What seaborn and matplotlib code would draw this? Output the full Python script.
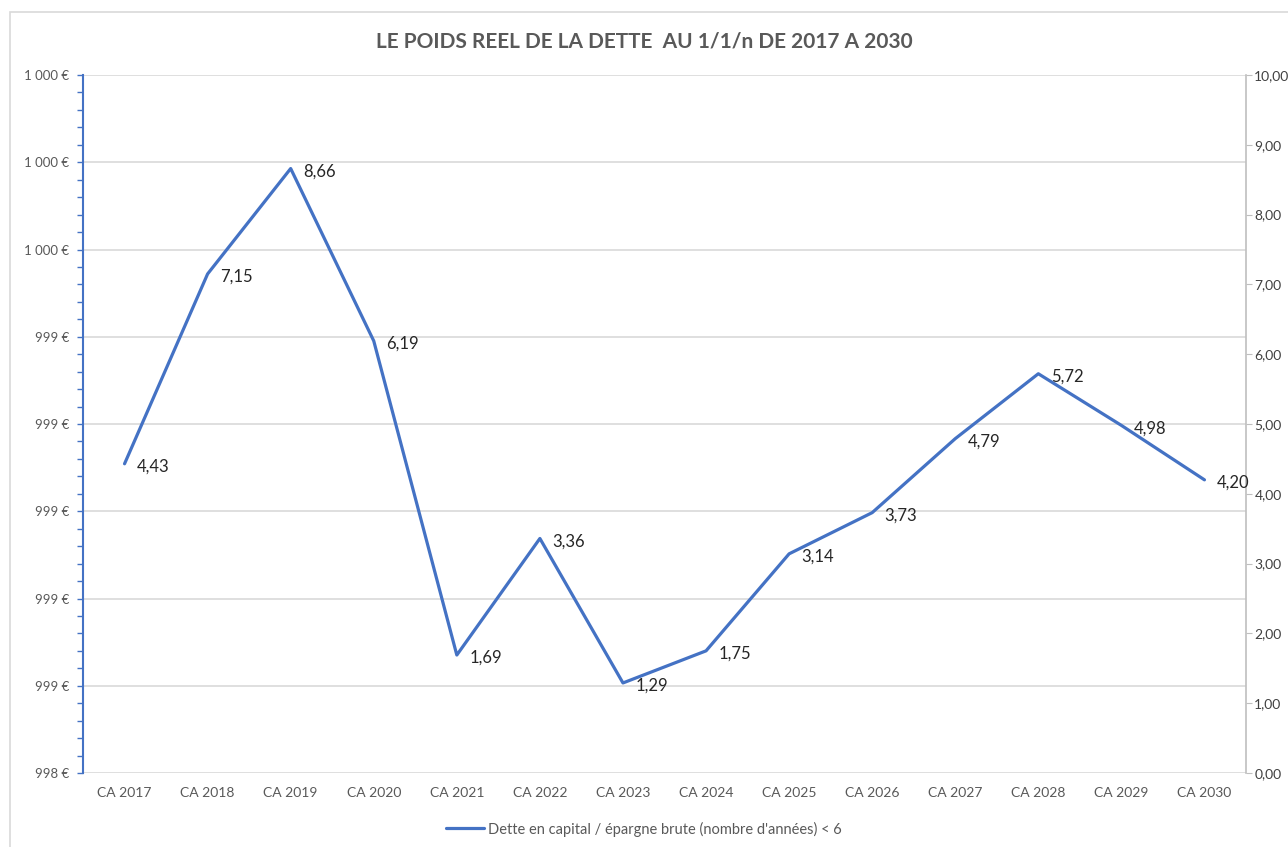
import matplotlib
matplotlib.use('Agg')
import matplotlib.pyplot as plt
import seaborn as sns
import pandas as pd
from matplotlib.patches import Rectangle
from matplotlib.ticker import FixedLocator, MultipleLocator

sns.set_style("white")
plt.rcParams['font.family'] = ['Lato', 'DejaVu Sans']

# data
years = ["CA 2017", "CA 2018", "CA 2019", "CA 2020", "CA 2021", "CA 2022", "CA 2023",
         "CA 2024", "CA 2025", "CA 2026", "CA 2027", "CA 2028", "CA 2029", "CA 2030"]
ratio = [4.43, 7.15, 8.66, 6.19, 1.69, 3.36, 1.29, 1.75, 3.14, 3.73, 4.79, 5.72, 4.98, 4.20]
left_labels = ["998 €", "999 €", "999 €", "999 €", "999 €", "999 €",
               "1 000 €", "1 000 €", "1 000 €"]
right_ticks = [0, 1, 2, 3, 4, 5, 6, 7, 8, 9, 10]
series_name = "Dette en capital / épargne brute (nombre d'années) < 6"
title = "LE POIDS REEL DE LA DETTE  AU 1/1/n DE 2017 A 2030"

BLUE = "#4472C4"
GRID = "#D9D9D9"
TXT = "#595959"

df = pd.DataFrame({"annee": years, "ratio": ratio})
df["pos"] = range(len(df))

W, H = 1288, 847
fig = plt.figure(figsize=(W / 100, H / 100), dpi=100)
# chart area border (only left and top edges visible in the crop)
fig.patches.append(Rectangle((10 / W, -0.1), 1.2, (847 - 12) / H + 0.1,
                             transform=fig.transFigure, fill=False,
                             edgecolor=GRID, linewidth=1.2))

ax = fig.add_axes([83 / W, (H - 773) / H, (1246 - 83) / W, (773 - 75) / H])

# left (decorative) axis with euro labels
ax.set_ylim(0, len(left_labels) - 1)
ax.yaxis.set_major_locator(FixedLocator(range(len(left_labels))))
ax.set_yticklabels(left_labels)
ax.yaxis.set_minor_locator(MultipleLocator(0.2))
ax.tick_params(axis='y', which='both', direction='out', length=4, width=1,
               color=BLUE, labelcolor=TXT, labelsize=9.5, pad=6, left=True)
ax.grid(axis='y', color=GRID, linewidth=1.2)
ax.set_axisbelow(True)
for s in ["top", "right", "bottom"]:
    ax.spines[s].set_visible(False)
ax.spines["left"].set_color(BLUE)
ax.spines["left"].set_linewidth(1.5)

# right axis carries the series
ax2 = ax.twinx()
sns.lineplot(data=df, x="pos", y="ratio", ax=ax2, color=BLUE, linewidth=2.3,
             label=series_name, legend=False)
ax2.set_ylim(0, 10)
ax2.set_yticks(right_ticks)
ax2.set_yticklabels([f"{v:.2f}".replace(".", ",") for v in right_ticks])
ax2.tick_params(axis='y', direction='out', length=4, color="#BFBFBF",
                labelcolor="#404040", labelsize=10, pad=2)
ax2.set_ylabel("")
ax2.set_xlabel("")
for s in ["top", "left", "bottom"]:
    ax2.spines[s].set_visible(False)
ax2.spines["right"].set_color("#BFBFBF")
ax2.spines["right"].set_linewidth(1.2)

ax.set_xlim(-0.5, len(years) - 0.5)
ax.set_xticks(range(len(years)))
ax.set_xticklabels(years)
ax.tick_params(axis='x', length=0, labelcolor=TXT, labelsize=10, pad=10)
ax2.tick_params(axis='x', bottom=False, labelbottom=False)

for i, v in enumerate(ratio):
    ax2.annotate(f"{v:.2f}".replace(".", ","), (i, v), xytext=(9, -2),
                 textcoords="offset points", ha="left", va="center",
                 fontsize=12, color="#262626")

fig.text(0.5, (H - 42) / H, title, ha="center", va="center",
         fontsize=15, fontweight="bold", color=TXT)

handles, labels = ax2.get_legend_handles_labels()
fig.legend(handles, labels, loc="center", bbox_to_anchor=(0.5, (H - 829) / H),
           frameon=False, fontsize=10.5, labelcolor=TXT, handlelength=2.6,
           handletextpad=0.3)

fig.savefig("out.png", dpi=100)
